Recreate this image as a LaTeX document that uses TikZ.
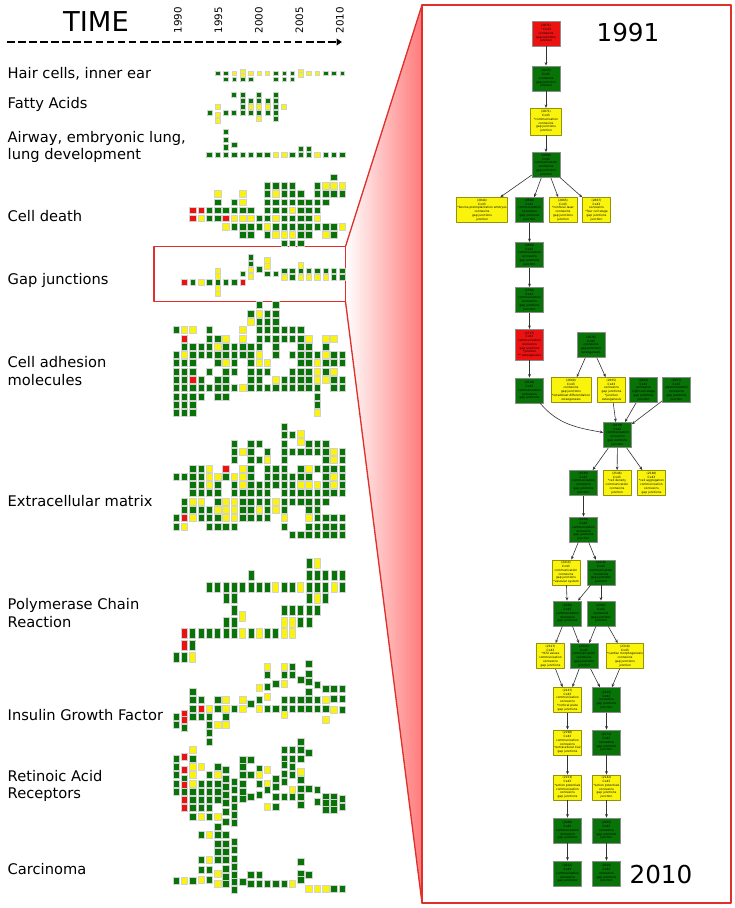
\documentclass[tikz,border=0pt]{standalone}
\usepackage{fontspec}
\setmainfont{DejaVu Sans}
\usetikzlibrary{arrows.meta}

\definecolor{g}{RGB}{8,116,8}
\definecolor{y}{RGB}{250,244,12}
\definecolor{r}{RGB}{236,18,18}
\definecolor{panelred}{RGB}{224,48,44}

% one topic: columns of small squares, column i = one year step
\newcommand{\yearcluster}[5]{%
  \foreach \i/\cells in {#5}{%
    \foreach \rw/\cl in \cells
      \filldraw[fill=\cl,draw=black!18,line width=.2pt]
        ({176+8.3*\i-#3/2},{#1+#2*\rw-#4/2}) rectangle ++(#3,#4);
  }}

\begin{document}
\begin{tikzpicture}[x=.75pt,y=-.75pt,line join=round,
    topic/.style={anchor=west,align=left,font=\fontsize{11}{12.8}\selectfont},
    box/.style={draw=black!45,line width=.35pt,inner sep=.6pt,align=center,
      minimum width=21pt,minimum height=19pt,
      font=\fontsize{2.2}{2.8}\selectfont},
    gbox/.style={box,fill=g},
    ybox/.style={box,fill=y,draw=black!40!y},
    rbox/.style={box,fill=r},
    link/.style={-{Stealth[length=2.6pt,width=2.1pt]},black!80,line width=.45pt}]
  \useasboundingbox (0,0) rectangle (735,908);

  % time axis
  \node[font=\fontsize{20.5}{24}\selectfont] (time) at (96,21.5) {TIME};
  \foreach \yr [count=\k from 0] in {1990,1995,2000,2005,2010}
    \node[rotate=90,font=\fontsize{7.7}{9}\selectfont] (yr\yr) at ({178+40.5*\k},20) {\yr};
  \draw[line width=2pt,dash pattern=on 5.8pt off 2.5pt,
    -{Triangle[length=4pt,width=5pt]}] (7,42) -- (342,42);

  % zoom wedge from the gap junction row to the panel
  \shade[left color=white,right color=red!52] (345.5,246.5) -- (422,5)
    -- (422,903) -- (345.5,301.5) -- cycle;
  \draw[panelred,line width=1pt] (345.5,246.5) -- (422,5)
    (345.5,301.5) -- (422,903);
  \draw[panelred,line width=1pt] (154,246.5) rectangle (345.5,301.5);
  \draw[panelred,line width=1.5pt,fill=white] (422,5) rectangle (731,903);

  % topic names
  \node[topic] (hair) at (3,74) {Hair cells, inner ear};
  \node[topic] (fatty) at (3,104.5) {Fatty Acids};
  \node[topic] (airway) at (3,146.5) {Airway, embryonic lung,\\lung development};
  \node[topic] (death) at (3,216) {Cell death};
  \node[topic] (gap) at (3,280) {Gap junctions};
  \node[topic] (adhesion) at (3,371) {Cell adhesion\\molecules};
  \node[topic] (matrix) at (3,501) {Extracellular matrix};
  \node[topic] (pcr) at (3,613) {Polymerase Chain\\Reaction};
  \node[topic] (insulin) at (3,715) {Insulin Growth Factor};
  \node[topic] (retinoic) at (3,786) {Retinoic Acid\\Receptors};
  \node[topic] (carcinoma) at (3,869) {Carcinoma};

  % the topic columns (base y, row step, cell w, cell h)
  \yearcluster{73.3}{6}{4.5}{4.5}{5/{0/g},6/{0/g,1/g},7/{0/y,1/g},
    8/{-0.4/y,0.4/y,1/g},9/{0/y,1/g},10/{0/y},11/{0/y},12/{0/g,1/g},
    13/{0/g,1/g},14/{0/g,1/g},15/{-0.4/y,0.2/y},16/{0/y},17/{0/y},
    18/{0/g},19/{0/g},20/{0/g}}
  \yearcluster{95}{6}{5}{5}{4/{3/g},5/{2/y,3.2/y,4.2/y},6/{3/g},7/{0/g,3/g},
    8/{0/g,1/g,2/g,3/g},9/{1/g,2/y,3/g},10/{0/g,1/g,2/y,3/g,4/y},
    11/{1/g,2/y,3/g},12/{0/g,1/g,2/g,3/g,4/g},13/{2/y}}
  \yearcluster{131.7}{7.7}{5.5}{5.5}{4/{3/g},5/{3/g},6/{0/g,1/g,2/g,3/g},
    7/{1.7/g,3/g},8/{3/g},9/{3/g},10/{3/g},11/{3/g},12/{3/y},13/{3/y},
    14/{3/g},15/{2.2/g,3/g},16/{2.2/g,3/g},17/{3/y},18/{3/g},19/{3/g},20/{3/g}}
  \yearcluster{177.3}{8.2}{6.5}{6.5}{2/{4/r,5/r},3/{4/r,5/y},4/{4/g,5/g},
    5/{2/y,3/g,4/g,5/g},6/{4/g,5/r,6/y},7/{3/g,4/g,5/y,6/g},
    8/{2/y,3/y,4/g,5/y,6/g,7/g},9/{4/g,5/y,6/g,7/g},10/{5/g,6/g},
    11/{1/g,2/g,3/g,4/g,5/g,6/y,7/g},12/{1/g,2/y,3/g,4/g,5/y,6/g,7/y},
    13/{1/g,2/g,3/g,4/g,5/g,6/g,7/y,8/g},14/{1/g,2/g,3/g,4/y,5/g,6/g,7/y,8/g},
    15/{2/g,3/g,4/g,5/g,6/g,7/g,8/g},16/{3/g,4/g,5/g,6/g,7/g},
    17/{1/g,2/g,3/g,4/g,5/y,6/g},18/{1/y,2/g,3/g,6/g,7/y},
    19/{0/g,1/y,2/g,6/g,7/g},20/{1/y,2/g,6/y}}
  \yearcluster{282.3}{6.67}{5.5}{5.5}{1/{0/r},2/{0/g},3/{0/y},4/{0/g},
    5/{-1.75/y,-0.9/y,0/g,0.9/y,1.7/y},6/{0/g},7/{0/g},8/{-1.3/g,0/r},
    9/{-3.8/g,-2.8/g,-1.9/y,-0.9/y},10/{-2/g},11/{-3.3/y,-2.4/y,-1.3/g},
    12/{-1.3/g},13/{-1.75/g,-0.75/y},14/{-1.75/g,-0.75/g},
    15/{-2.6/y,-1.75/g,-0.75/y},16/{-1.75/g,-0.75/y},17/{-1.75/g,-0.75/y},
    18/{-1.75/g,-0.75/y},19/{-1.75/g,-0.75/g},20/{-1.75/g,-0.75/g}}
  \yearcluster{305}{8.3}{6.5}{7}{0/{3/g,6/g,7/g,8/g,9/g,10/g,11/g,12/g,13/g},
    1/{3/y,4/r,5/g,6/y,7/g,8/g,9/g,10/g,11/g,12/g,13/g},
    2/{3/y,5/g,6/g,7/g,8/g,9/r,10/g,11/g,12/g,13/g},
    3/{5/g,6/g,9/g,10/g,11/g},4/{3/g,4/g,5/g,6/g,8/g,10/g},
    5/{4/g,5/y,6/g,7/g,9/g,10/g,11/g},6/{4/y,5/g,6/g,7/y,8/g,9/g,10/g,11/g},
    7/{5/g,6/g,7/g,8/g,10/g},8/{3/y,4/y,5/g,6/g,10/y},
    9/{1/g,2/y,5/g,6/g,7/g,8/g,9/g,10/g},
    10/{0/g,1/y,2/g,3/g,4/g,5/g,6/y,7/y,8/g,9/g,10/g},
    11/{1/g,2/g,3/g,4/g,7/y,8/g,10/g},12/{0/g,1/g,2/g,3/g,4/g,5/g,6/g,9/y,10/g},
    13/{3/g,4/g,9/g,10/g},14/{3/g,4/g,6/g,8/g,9/g,10/g},
    15/{3/g,4/g,5/g,6/g,7/g,8/g,9/g,10/g},16/{4/y,5/g,6/g,7/g,8/g,9/g,10/g},
    17/{6/g,7/y,8/y,9/y,10/g,11/g,12/g,13/y},18/{4/y,5/g,6/y,7/g,8/g,9/y},
    19/{4/y,6/g,7/g,8/y,9/g,10/g},20/{6/g,7/g,9/g,10/g}}
  \yearcluster{426.7}{8.3}{6.5}{7}{0/{6/g,11/g,12/g},1/{6/g,9/g,10/g,11/r,12/y},
    2/{5/g,6/g,7/g,8/g,9/y,10/g,11/y},3/{5/g,6/g,7/g,8/g,9/y,10/g,11/g},
    4/{5/y,6/y,7/y,8/g,10/g,11/g,12/g},5/{6/y,7/g,8/g,9/g,10/y,11/g,12/g},
    6/{5/r,6/g,9/y,10/y,11/y,12/g},7/{2/g,3/g,4/g,6/y,7/g,8/g,9/y,10/y,11/y,12/g},
    8/{3/y,5/y,6/y,7/y,8/g,9/g,10/g,11/g},
    9/{2/g,3/g,4/g,5/g,6/g,7/g,8/g,9/g,10/g,11/g},
    10/{2/g,4/g,7/g,8/g,9/g,10/y,11/g},11/{3/g,4/y,5/g,6/g,7/g,8/g,9/g,10/g,11/g},
    12/{5/g,6/g,7/g,9/y,10/y},
    13/{0/g,1/g,2/g,3/g,4/g,5/g,6/g,7/g,8/g,9/g,10/g,11/y,12/g},
    14/{1/g,3/g,6/g,7/g,8/g,9/g,13/g},15/{0.8/y,1.8/y,3/g,5/g,6/g,7/y,8/g,9/g,13/g},
    16/{2/g,3/g,5/y,6/g,7/y,8/g,9/g,10/g,11/y,12/g,13/g},
    17/{2/g,3/g,5/g,7/y,8/g,9/g,10/g,11/g,12/g,13/g},
    18/{2/g,3/g,4/g,5/g,6/g,7/g,8/g,9/g,11/g,12/g,13/g},
    19/{3/y,4/y,5/g,6/y,7/y,8/g,11/g,12/g,13/g},
    20/{3/g,4/g,5/g,6/g,7/g,8/g,11/g,12/g,13/g}}
  \yearcluster{563.3}{11.67}{6}{10}{0/{8/g},1/{6/r,7/r,8/g},2/{6/g,7/g,8/y},
    3/{6/g},4/{2/g,6/g},5/{2/g,6/g},6/{2/g,3/g,5/g,6/g},7/{2/g,3/g,4/g,5/g,6/g},
    8/{2/g,4.5/y,6/y},9/{1/g,2/g,6/g},10/{2/g,6/y},11/{2/g,6/g},12/{2/y,6/g},
    13/{2/g,4/g,5/y,6/y},14/{2/g,4/g,5/y,6/y},15/{2/y,4/g,5/g},
    16/{0/g,1/g,2/g,3/g,4/g,5/g},17/{0/y,1/g,2/g,3/y,4/g},18/{1/g,2/g,3/g},
    19/{1/g,2/y},20/{1/g,2/g}}
  \yearcluster{666.7}{8.3}{6.5}{7}{0/{6/g,7/g},1/{5.6/r,6.4/r,7.4/g},
    2/{3/g,4/g,5/g,6/g},3/{4/g,5/r,6/g},4/{5/y,6/g,7/g,8/g,9/g},
    5/{4/g,5/g,7/y},6/{4/y,5/y,6/g,7/y},7/{5/g},8/{4/y,5/y},9/{4.5/g},
    10/{2.5/y,4/g,5/y},11/{0/y,1/g,2.4/g,3.6/y,5/g},12/{2/g,5/g},
    13/{0/y,1/g,2/y,4/g,5/g,5.8/y},14/{0/g,1/g,4/g,5/g},15/{1.6/g,4/g,5/g},
    16/{-0.4/g,0.8/g,1.8/g,3/g,4/g,5/g},17/{2.2/g,4/g,5/g},
    18/{2.6/g,4/y,5/g,6.4/y},19/{2.6/g,3.8/g,5.2/y},20/{2.6/g,3.8/g,5.2/g}}
  \yearcluster{741.7}{8.3}{6.5}{7}{0/{2/g,3/g,4/g,5/g,6/g},
    1/{1.8/r,3.4/r,4.4/g,5.2/r,6/g,7/r,8/r},
    2/{1/y,2/g,3/y,4/y,5/y,6/g,7/g,8/g,9/g},3/{3/y,5/g,6/g,7/g,8/g,9/y},
    4/{4/g,5/g,6/g,7/g,8/g,9/g},5/{3/g,4/y,5/g,6/g,7/g,9/y},
    6/{3.4/g,4.4/g,5.4/g,6.4/g,7.4/g,8.4/g,9.6/g},
    7/{4.8/g,5.8/g,6.8/g,7.8/g,8.8/g,9.8/g},8/{2.2/g,3/g,4/g,5/g,6/g,6.8/g},
    9/{2.2/g,4/g,6.6/g},10/{3.2/g,4/y,5/g,6.4/g},11/{3.4/y,5/y,5.8/g,7.8/y},
    12/{4.4/g,5.4/g,6.6/g,7.8/g},13/{1/g,2/g,2.8/g,3.8/g,4.8/g,6.6/g},
    14/{1/g,2/g,3/g,4/g,5.8/y,6.6/g},
    15/{0/g,1/g,2/g,3.6/y,4.6/g,5.6/g,6.6/g,7.6/g},16/{1.3/g,5.6/g},
    17/{5.8/g,7.2/g},18/{6.6/g,7.4/g,8.2/g},19/{6.6/g,7.4/g,8.2/g},
    20/{6.8/g,7.8/g}}
  \yearcluster{826.7}{8.3}{6.5}{7}{0/{6.5/g},1/{6.5/y},2/{6.5/g},
    3/{1/g,4/g,5.2/g,6.4/y},4/{1/y,4/y,5.2/g,6.4/g},
    5/{0/g,1/g,2/g,3/g,4/g,5.6/y,6.8/y},6/{1/g,2/g,3/g,4/g,5/g,6/g,6.8/g},
    7/{1.8/g,2.8/g,3.8/g,4.8/g,5.8/g,6.6/g,7.6/g},8/{6.6/g},9/{5.8/g,6.8/g},
    10/{5.8/g,6.8/g},11/{6.8/g},12/{6.8/g},13/{6.8/g},14/{6.8/y},
    15/{4.2/g,5.6/g,6.4/g},16/{5.8/g,7.5/y},17/{7.5/y},18/{7.5/y},
    19/{7.5/g},20/{7.5/g}}

  % gap junction graph, 1991 at top to 2010 at bottom
  \node[font=\fontsize{18.5}{22}\selectfont] (first) at (628,33) {1991};
  \node[font=\fontsize{18.5}{22}\selectfont] (last) at (661,875) {2010};

  \node[rbox] (n1) at (546,33.5) {(2871)\\* Cx43\\connexins\\gap junctions\\junction};
  \node[gbox] (n2) at (546,78.5) {(2835)\\Cx43\\connexins\\gap junctions\\junction};
  \node[ybox,minimum width=23pt,minimum height=20pt] (n3) at (546,121.5)
    {(2871)\\Cx43\\*communication\\connexins\\gap junctions\\junction};
  \node[gbox] (n4) at (546,165) {(2869)\\Cx43\\communication\\connexins\\gap junctions\\junction};
  \node[ybox] (a1) at (482,210) {(2844)\\Cx43\\*bovine preimplantation embryos\\connexins\\gap junctions\\junction};
  \node[gbox] (a2) at (529.5,210) {(2848)\\Cx43\\communication\\connexins\\gap junctions\\junction};
  \node[ybox] (a3) at (563,210) {(2865)\\Cx43\\*confocal laser\\connexins\\gap junctions\\junction};
  \node[ybox] (a4) at (596.5,210) {(2867)\\Cx43\\connexins\\*four cell stage\\gap junctions\\junction};
  \node[gbox] (b1) at (529.5,255) {(2800)\\Cx43\\communication\\connexins\\gap junctions\\junction};
  \node[gbox] (b2) at (529.5,300) {(2756)\\Cx43\\communication\\connexins\\gap junctions\\junction};
  \node[rbox,minimum height=23pt] (b3) at (529.5,344.5)
    {(2717)\\Cx43\\communication\\connexins\\gap junctions\\*junction\\** osteogenesis};
  \node[gbox] (c0) at (591,345) {(2676)\\Cx43\\connexins\\gap junctions\\osteogenesis};
  \node[gbox] (c1) at (529.5,390.5) {(2630)\\Cx43\\communication\\connexins\\gap junctions};
  \node[ybox] (c2) at (571,390) {(2660)\\Cx43\\connexins\\gap junctions\\*osteoblast differentiation\\osteogenesis};
  \node[ybox] (c3) at (611.5,390) {(2655)\\Cx43\\connexins\\gap junctions\\*junction\\osteogenesis};
  \node[gbox] (c4) at (643.5,390) {(2682)\\Cx43\\connexins\\eight-cell stage\\gap junctions\\junction};
  \node[gbox] (c5) at (676.5,390) {(2657)\\Cx43\\adrenomedullin\\connexins\\gap junctions\\junction};
  \node[gbox] (d0) at (617.5,435) {(2579)\\Cx43\\communication\\connexins\\gap junctions\\junction};
  \node[gbox] (d1) at (583.5,483) {(2545)\\Cx43\\communication\\connexins\\gap junctions\\junction};
  \node[ybox] (d2) at (617,483) {(2546)\\Cx43\\*cell density\\communication\\connexins\\junction};
  \node[ybox] (d3) at (651.5,483) {(2548)\\Cx43\\*cell aggregation\\communication\\connexins\\gap junctions};
  \node[gbox] (e0) at (583.5,529.5) {(2469)\\Cx43\\communication\\connexins\\gap junctions\\junction};
  \node[ybox] (f1) at (566,572.5) {(2414)\\Cx43\\communication\\connexins\\gap junctions\\*vascular system};
  \node[gbox] (f2) at (601,572.5) {(2410)\\Cx43\\communication\\connexins\\gap junctions\\junction};
  \node[gbox] (g1) at (567.5,613.5) {(2365)\\Cx43\\communication\\connexins\\gap junctions};
  \node[gbox] (g2) at (601,613.5) {(2341)\\Cx43\\connexins\\gap junctions\\junction};
  \node[ybox] (h1) at (550.5,656) {(2327)\\Cx43\\*ICSI values\\communication\\connexins\\gap junctions};
  \node[gbox] (h2) at (584,656) {(2314)\\Cx43\\communication\\connexins\\gap junctions\\junction};
  \node[ybox] (h3) at (625,656) {(2310)\\Cx43\\*cardiac morphogenesis\\connexins\\gap junctions\\junction};
  \node[ybox] (k1) at (567.5,700) {(2247)\\Cx43\\communication\\connexins\\*cortical plate\\gap junctions};
  \node[gbox] (k2) at (606.5,700) {(2225)\\Cx43\\connexins\\gap junctions\\junction};
  \node[ybox] (l1) at (567.5,742.5) {(2190)\\Cx43\\communication\\connexins\\*extracellular Ca2\\gap junctions};
  \node[gbox] (l2) at (606.5,742.5) {(2171)\\Cx43\\connexins\\gap junctions\\junction};
  \node[ybox] (m1) at (567.5,787.5) {(2153)\\Cx43\\*action potentials\\communication\\connexins\\gap junctions};
  \node[ybox] (m2) at (606.5,787.5) {(2142)\\Cx43\\*action potentials\\connexins\\gap junctions\\junction};
  \node[gbox] (p1) at (567.5,830.5) {(2080)\\Cx43\\communication\\connexins\\gap junctions};
  \node[gbox] (p2) at (606.5,830.5) {(2065)\\Cx43\\connexins\\gap junctions\\junction};
  \node[gbox] (q1) at (567.5,873.5) {(2022)\\Cx43\\communication\\connexins\\gap junctions};
  \node[gbox] (q2) at (606.5,873.5) {(2020)\\Cx43\\connexins\\gap junctions\\junction};

  \foreach \a/\b in {n1/n2,n2/n3,n3/n4,n4/a1,n4/a2,n4/a3,n4/a4,a2/b1,b1/b2,
      b2/b3,b3/c1,c0/c2,c0/c3,c3/d0,c4/d0,c5/d0,d0/d1,d0/d2,d0/d3,d1/e0,
      e0/f1,e0/f2,f1/g1,f2/g1,f2/g2,g1/h1,g1/h2,g2/h2,g2/h3,h1/k1,h2/k1,
      h2/k2,h3/k2,k1/l1,l1/m1,m1/p1,p1/q1,k2/l2,l2/m2,m2/p2,p2/q2}
    \draw[link] (\a) -- (\b);
  \draw[link] (c1) to[out=-50,in=170] (d0);
\end{tikzpicture}
\end{document}
